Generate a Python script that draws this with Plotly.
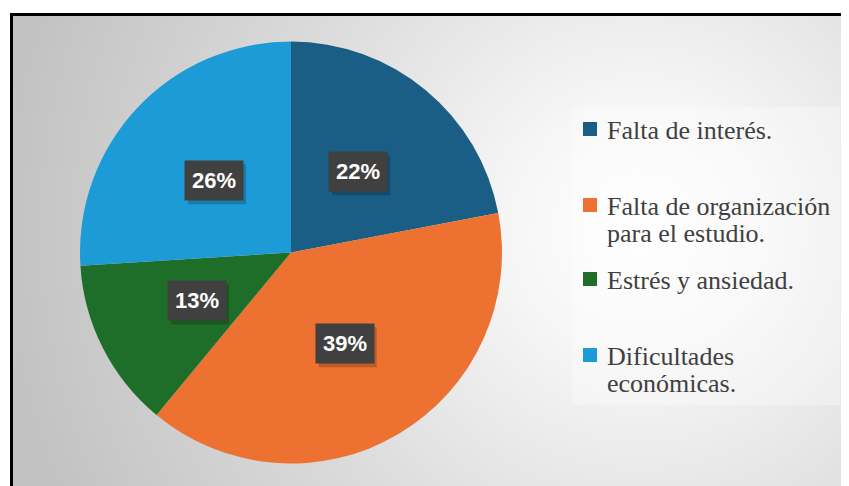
import math
import urllib.parse
import plotly.graph_objects as go

# ---------------- data ----------------
categories = [
    "Falta de interés.",
    "Falta de organización<br>para el estudio.",
    "Estrés y ansiedad.",
    "Dificultades<br>económicas.",
]
values = [22, 39, 13, 26]
colors = ["#1b5e85", "#ed7131", "#1e6e29", "#1c9bd7"]

# ---------------- layout constants ----------------
W, H = 849, 486
OFF = 8  # page body margin: figure is drawn 8px right/down in the window
PIE_CX, PIE_CY, PIE_R = 291, 252.5, 211

def px_x(x):
    return (x - OFF) / W

def px_y(y):
    return 1 - (y - OFF) / H

# background: white outside frame, radial gray gradient inside, black frame (window coords)
svg = f"""<svg xmlns='http://www.w3.org/2000/svg' width='{W}' height='{H}' viewBox='{OFF} {OFF} {W} {H}'>
<defs><radialGradient id='g' gradientUnits='userSpaceOnUse' cx='640' cy='230' r='640'>
<stop offset='0' stop-color='#ffffff'/><stop offset='0.2' stop-color='#f6f6f6'/>
<stop offset='0.6' stop-color='#dadada'/><stop offset='1' stop-color='#c2c2c2'/></radialGradient></defs>
<rect x='0' y='0' width='{W + 20}' height='{H + 20}' fill='#ffffff'/>
<rect x='10' y='13' width='{W + 20}' height='{H + 20}' fill='url(#g)'/>
<rect x='572' y='107' width='268' height='298' fill='#ffffff' fill-opacity='0.3'/>
<line x1='11.5' y1='13' x2='11.5' y2='{H + 20}' stroke='#000' stroke-width='3'/>
<line x1='10' y1='14.5' x2='{W + 20}' y2='14.5' stroke='#000' stroke-width='3'/>
</svg>"""
bg_src = "data:image/svg+xml;charset=utf-8," + urllib.parse.quote(svg)

fig = go.Figure()
fig.add_trace(go.Pie(
    labels=categories,
    values=values,
    marker=dict(colors=colors, line=dict(width=0)),
    sort=False,
    direction="clockwise",
    rotation=0,
    textinfo="none",
    hoverinfo="label+percent",
    showlegend=False,
    domain=dict(
        x=[px_x(PIE_CX - PIE_R), px_x(PIE_CX + PIE_R)],
        y=[px_y(PIE_CY + PIE_R), px_y(PIE_CY - PIE_R)],
    ),
))

annotations = []
shapes = []
# percentage labels on slice bisectors, with a soft drop shadow box
total = sum(values)
cum = 0
for v in values:
    mid = (cum + v / 2) / total * 2 * math.pi
    cum += v
    lx = PIE_CX + 0.5 * PIE_R * math.sin(mid)
    ly = PIE_CY - 0.5 * PIE_R * math.cos(mid)
    pct = f"{round(v / total * 100)}%"
    shapes.append(dict(type="rect", xref="paper", yref="paper", layer="above",
                       x0=px_x(lx - 29 + 3), x1=px_x(lx + 29 + 3),
                       y0=px_y(ly + 20 + 4), y1=px_y(ly - 20 + 4),
                       fillcolor="rgba(0,0,0,0.2)", line=dict(width=0)))
    annotations.append(dict(text=pct, x=px_x(lx), y=px_y(ly), xref="paper", yref="paper",
                            showarrow=False, borderpad=7, xanchor="center", yanchor="middle",
                            font=dict(family="Liberation Sans", size=22,
                                      color="#ffffff", weight="bold"),
                            bgcolor="#404040"))

# manual legend
legend_tops = [130, 206, 280, 356]   # vertical centre of first line (px)
line_gap = 27
for name, col, yc in zip(categories, colors, legend_tops):
    shapes.append(dict(type="rect", xref="paper", yref="paper",
                       x0=px_x(583), x1=px_x(597), y0=px_y(yc - 8), y1=px_y(yc + 6),
                       fillcolor=col, line=dict(width=0)))
    for i, line in enumerate(name.split("<br>")):
        annotations.append(dict(text=line, x=px_x(605), y=px_y(yc + i * line_gap),
                                xref="paper", yref="paper", showarrow=False,
                                xanchor="left", yanchor="middle", align="left",
                                font=dict(family="Liberation Serif", size=26, color="#404040")))

fig.update_layout(
    width=W, height=H,
    margin=dict(l=0, r=0, t=0, b=0),
    paper_bgcolor="#ffffff",
    plot_bgcolor="rgba(0,0,0,0)",
    images=[dict(source=bg_src, xref="paper", yref="paper", x=0, y=1,
                 sizex=1, sizey=1, xanchor="left", yanchor="top",
                 sizing="stretch", layer="below")],
    annotations=annotations,
    shapes=shapes,
    showlegend=False,
)

fig.write_html("out.html")
